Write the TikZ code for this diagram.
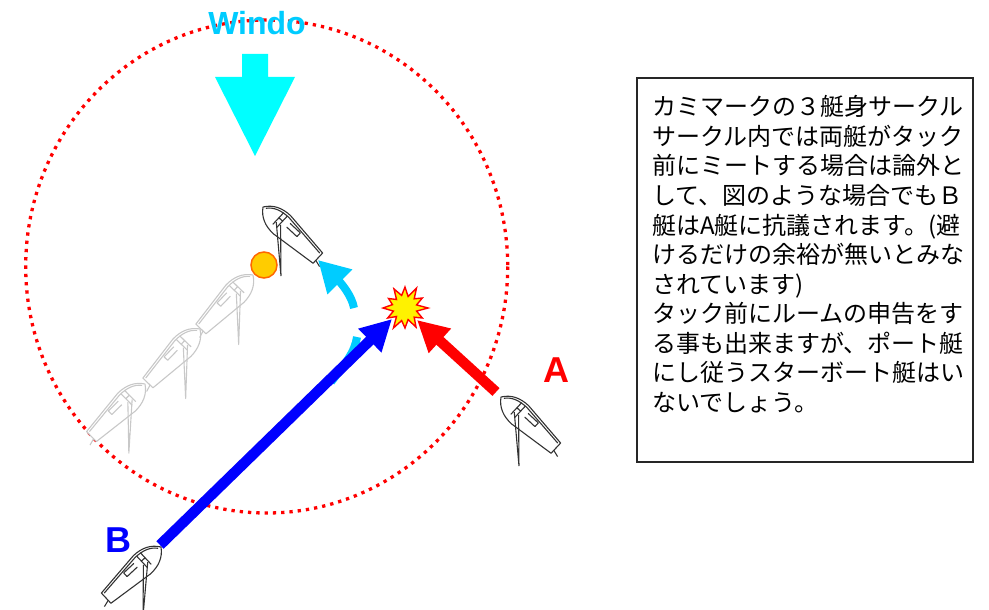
\documentclass[tikz,border=0pt]{standalone}
\usepackage{fontspec}
\setmainfont{Liberation Sans}
\newfontfamily\jpfont{Noto Sans CJK JP}
\usetikzlibrary{arrows.meta}

\definecolor{windcyan}{HTML}{00CCFF}
\definecolor{aqua}{HTML}{00FFFF}
\definecolor{markfill}{HTML}{FFCC00}
\definecolor{markline}{HTML}{FF6600}
\definecolor{boatdark}{HTML}{333333}
\definecolor{boatfade}{HTML}{C8C8C8}

\tikzset{
  hull/.style={draw=boatdark, line width=1.1pt, line join=round},
  fadedhull/.style={hull/.style={draw=boatfade, line width=1.1pt, line join=round}},
  mirrored/.style={yscale=-1},
  % a keelboat seen from above: bow at the origin, stern along +x
  pics/boat/.style={code={
    \draw[hull, fill=white] (0,0) .. controls (6,-9) and (15,-12.5) .. (26,-12.5)
      -- (75,-7) -- (75,7) -- (26,12.5) .. controls (15,12.5) and (6,9) .. (0,0);
    \draw[hull] (3,-1) .. controls (8,-7.5) and (16,-10) .. (26,-10) -- (73,-5);
    \draw[hull] (19,-10) -- (19,6) (24,-10) -- (24,6) (19,-3) -- (24,-3);
    \draw[hull] (31,-6.5) -- (45,-6.5) -- (45,-1.5) -- (31,-1.5);
    \draw[hull] (20,2) -- (60,38) -- (25,1);
    \draw[hull] (75,3) -- (82,5);
  }},
  course/.style={line width=10.5pt, -{Triangle[width=31pt,length=31pt]}},
  turn/.style={windcyan, line width=8pt},
  jptext/.style={font=\jpfont\fontsize{24}{24}\selectfont, inner sep=0pt, anchor=base west},
  boatlabel/.style={font=\bfseries\fontsize{36}{36}\selectfont, inner sep=0pt},
}

\begin{document}
\begin{tikzpicture}[x=1pt, y=-1pt]
\useasboundingbox (0,0) rectangle (989,610);

% three-length zone around the mark
\draw[red, line width=3.3pt, dash pattern=on 3.3pt off 5pt]
  (266.7,266.5) ellipse [x radius=241, y radius=246.5];

% earlier positions of the tacking boat
\begin{scope}[fadedhull]
  \begin{scope}[shift={(145,384)}, rotate=-135.5, mirrored] \pic[transform shape] (ghost3) {boat}; \end{scope}
  \begin{scope}[shift={(200,329)}, rotate=-134, mirrored] \pic[transform shape] (ghost2) {boat}; \end{scope}
  \begin{scope}[shift={(253,275)}, rotate=-134, mirrored] \pic[transform shape] (ghost1) {boat}; \end{scope}
\end{scope}

% the mark
\node[circle, draw=markline, fill=markfill, line width=1.5pt, minimum size=26pt, inner sep=0pt] (mark) at (264,265) {};

% boat after the tack
\begin{scope}[shift={(263,207)}, rotate=-43] \pic[transform shape] (tacked) {boat}; \end{scope}

% tack turn
\draw[turn] (331,382) .. controls (345,364) and (355,352) .. (357,337);
\draw[turn, -{Triangle[width=33pt,length=31pt]}] (354,308) .. controls (352,296) and (341,283) .. (318,260);

% collision point
\coordinate (hit) at (405,308);
\begin{scope}[shift={(hit)}]
  \draw[red, fill=yellow, line width=1.4pt, line join=miter]
    (0:23) -- (15:12) -- (30:20) -- (45:13) -- (60:22) -- (75:12) -- (90:20)
    -- (105:13) -- (120:23) -- (135:12) -- (150:20) -- (165:12) -- (180:22)
    -- (195:13) -- (210:19) -- (225:12) -- (240:22) -- (255:13) -- (270:21)
    -- (285:12) -- (300:23) -- (315:13) -- (330:20) -- (345:12) -- cycle;
\end{scope}

% courses of B and A
\coordinate (Btail) at (160,545);
\coordinate (Btip) at (392,319);
\coordinate (Atail) at (496,392);
\coordinate (Atip) at (417,320);
\draw[course, blue] (Btail) -- (Btip);
\draw[course, red] (Atail) -- (Atip);

% boats A and B
\begin{scope}[shift={(501,397)}, rotate=-43] \pic[transform shape] (boatA) {boat}; \end{scope}
\begin{scope}[shift={(161,547)}, rotate=-137, mirrored] \pic[transform shape] (boatB) {boat}; \end{scope}

\node[boatlabel, text=red] (labelA) at (556,370) {A};
\node[boatlabel, text=blue] (labelB) at (118,540) {B};

% wind
\fill[aqua] (242,54) -- (268,54) -- (268,77) -- (295,77) -- (255,156) -- (215,77) -- (242,77) -- cycle;
\node[font=\bfseries\fontsize{32}{32}\selectfont, text=windcyan, inner sep=0pt, anchor=base] (wind) at (257,35) {Windo};

% explanation
\node[draw=black!85, line width=1.3pt, minimum width=336pt, minimum height=384pt, inner sep=0pt] (notebox) at (805,270) {};
\node[jptext] (t1) at (652,116) {カミマークの３艇身サークル};
\node[jptext] (t2) at (652,145.5) {サークル内では両艇がタック};
\node[jptext] (t3) at (652,175) {前にミートする場合は論外と};
\node[jptext] (t4) at (652,204.5) {して、図のような場合でもＢ};
\node[jptext] (t5) at (652,234) {艇はA艇に抗議されます。(避};
\node[jptext] (t6) at (652,263.5) {けるだけの余裕が無いとみな};
\node[jptext] (t7) at (652,293) {されています)};
\node[jptext] (t8) at (652,322.5) {タック前にルームの申告をす};
\node[jptext] (t9) at (652,352) {る事も出来ますが、ポート艇};
\node[jptext] (t10) at (652,381.5) {にし従うスターボート艇はい};
\node[jptext] (t11) at (652,411) {ないでしょう。};
\end{tikzpicture}
\end{document}
